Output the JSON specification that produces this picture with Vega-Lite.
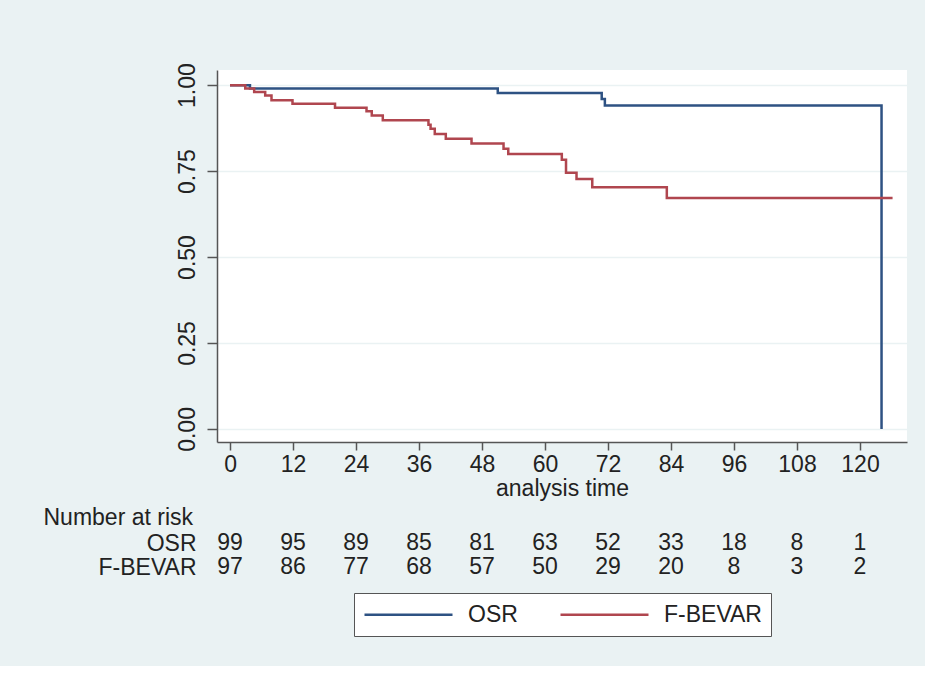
{
  "$schema": "https://vega.github.io/schema/vega-lite/v6.json",
  "background": "#eaf2f3",
  "padding": {"left": 43, "top": 62, "right": 18, "bottom": 29},
  "spacing": 6,
  "config": {
    "font": "Liberation Sans",
    "view": {"fill": null, "stroke": null},
    "axis": {
      "labelFont": "Liberation Sans",
      "labelFontSize": 23,
      "labelColor": "#222222",
      "titleFont": "Liberation Sans",
      "titleFontSize": 23,
      "titleFontWeight": "normal",
      "titleColor": "#222222",
      "domainColor": "#555555",
      "tickColor": "#555555",
      "domainWidth": 1.5,
      "tickWidth": 1.5
    },
    "legend": {
      "labelFont": "Liberation Sans",
      "labelFontSize": 23,
      "labelColor": "#222222"
    }
  },
  "vconcat": [
    {
      "width": 690,
      "height": 372,
      "view": {"fill": "white", "stroke": null},
      "data": {
        "values": [
          {"group": "OSR", "time": 0, "surv": 1.0},
          {"group": "OSR", "time": 3.8, "surv": 0.99},
          {"group": "OSR", "time": 51, "surv": 0.977},
          {"group": "OSR", "time": 70.8, "surv": 0.96},
          {"group": "OSR", "time": 71.4, "surv": 0.941},
          {"group": "OSR", "time": 124.1, "surv": 0},
          {"group": "F-BEVAR", "time": 0, "surv": 1.0},
          {"group": "F-BEVAR", "time": 2.9, "surv": 0.99},
          {"group": "F-BEVAR", "time": 4.6, "surv": 0.98},
          {"group": "F-BEVAR", "time": 6.7, "surv": 0.97},
          {"group": "F-BEVAR", "time": 7.9, "surv": 0.956},
          {"group": "F-BEVAR", "time": 11.9, "surv": 0.946},
          {"group": "F-BEVAR", "time": 20, "surv": 0.934},
          {"group": "F-BEVAR", "time": 26, "surv": 0.924},
          {"group": "F-BEVAR", "time": 27, "surv": 0.912},
          {"group": "F-BEVAR", "time": 29.1, "surv": 0.898},
          {"group": "F-BEVAR", "time": 37.8, "surv": 0.885},
          {"group": "F-BEVAR", "time": 38.2, "surv": 0.873},
          {"group": "F-BEVAR", "time": 39, "surv": 0.858},
          {"group": "F-BEVAR", "time": 41.1, "surv": 0.844},
          {"group": "F-BEVAR", "time": 46, "surv": 0.83},
          {"group": "F-BEVAR", "time": 52.1, "surv": 0.815},
          {"group": "F-BEVAR", "time": 53, "surv": 0.8},
          {"group": "F-BEVAR", "time": 63.2, "surv": 0.783},
          {"group": "F-BEVAR", "time": 64, "surv": 0.745},
          {"group": "F-BEVAR", "time": 66, "surv": 0.727},
          {"group": "F-BEVAR", "time": 69, "surv": 0.703},
          {"group": "F-BEVAR", "time": 83.2, "surv": 0.672},
          {"group": "F-BEVAR", "time": 126.2, "surv": 0.672}
        ]
      },
      "mark": {"type": "line", "interpolate": "step-after", "strokeWidth": 2.5},
      "encoding": {
        "x": {
          "field": "time",
          "type": "quantitative",
          "scale": {"domain": [-2.48, 128.95], "nice": false, "zero": false},
          "axis": {
            "values": [0, 12, 24, 36, 48, 60, 72, 84, 96, 108, 120],
            "title": "analysis time",
            "grid": false,
            "tickSize": 8,
            "labelPadding": 3,
            "titlePadding": 1,
            "labelFlush": false
          }
        },
        "y": {
          "field": "surv",
          "type": "quantitative",
          "scale": {"domain": [-0.038, 1.044], "nice": false, "zero": false},
          "axis": {
            "values": [0, 0.25, 0.5, 0.75, 1],
            "format": ".2f",
            "title": null,
            "grid": true,
            "gridColor": "#eaf2f3",
            "gridWidth": 1.5,
            "tickSize": 10,
            "labelAngle": -90,
            "labelAlign": "center",
            "labelBaseline": "alphabetic",
            "labelPadding": 13
          }
        },
        "color": {
          "field": "group",
          "type": "nominal",
          "scale": {"domain": ["OSR", "F-BEVAR"], "range": ["#2e5283", "#b0464f"]},
          "legend": {
            "title": null,
            "orient": "none",
            "legendX": 137,
            "legendY": 523,
            "direction": "horizontal",
            "fillColor": "white",
            "strokeColor": "#555555",
            "padding": 9,
            "symbolType": "M-1,0H7",
            "symbolSize": 484,
            "symbolStrokeWidth": 2.5,
            "labelOffset": 80,
            "columnPadding": 37
          }
        }
      }
    },
    {
      "width": 690,
      "height": {"step": 24},
      "data": {
        "values": [
          {"group": "OSR", "time": 0, "n": 99},
          {"group": "OSR", "time": 12, "n": 95},
          {"group": "OSR", "time": 24, "n": 89},
          {"group": "OSR", "time": 36, "n": 85},
          {"group": "OSR", "time": 48, "n": 81},
          {"group": "OSR", "time": 60, "n": 63},
          {"group": "OSR", "time": 72, "n": 52},
          {"group": "OSR", "time": 84, "n": 33},
          {"group": "OSR", "time": 96, "n": 18},
          {"group": "OSR", "time": 108, "n": 8},
          {"group": "OSR", "time": 120, "n": 1},
          {"group": "F-BEVAR", "time": 0, "n": 97},
          {"group": "F-BEVAR", "time": 12, "n": 86},
          {"group": "F-BEVAR", "time": 24, "n": 77},
          {"group": "F-BEVAR", "time": 36, "n": 68},
          {"group": "F-BEVAR", "time": 48, "n": 57},
          {"group": "F-BEVAR", "time": 60, "n": 50},
          {"group": "F-BEVAR", "time": 72, "n": 29},
          {"group": "F-BEVAR", "time": 84, "n": 20},
          {"group": "F-BEVAR", "time": 96, "n": 8},
          {"group": "F-BEVAR", "time": 108, "n": 3},
          {"group": "F-BEVAR", "time": 120, "n": 2}
        ]
      },
      "mark": {"type": "text", "fontSize": 23, "color": "#222222", "font": "Liberation Sans"},
      "encoding": {
        "x": {
          "field": "time",
          "type": "quantitative",
          "scale": {"domain": [-2.48, 128.95], "nice": false, "zero": false},
          "axis": null
        },
        "y": {
          "field": "group",
          "type": "nominal",
          "sort": ["OSR", "F-BEVAR"],
          "axis": {
            "title": "Number at risk",
            "titleAngle": 0,
            "titleAlign": "left",
            "titleBaseline": "middle",
            "titleX": -174,
            "titleY": -14,
            "domain": false,
            "ticks": false,
            "labelPadding": 21
          }
        },
        "text": {"field": "n", "type": "quantitative"}
      }
    }
  ]
}
